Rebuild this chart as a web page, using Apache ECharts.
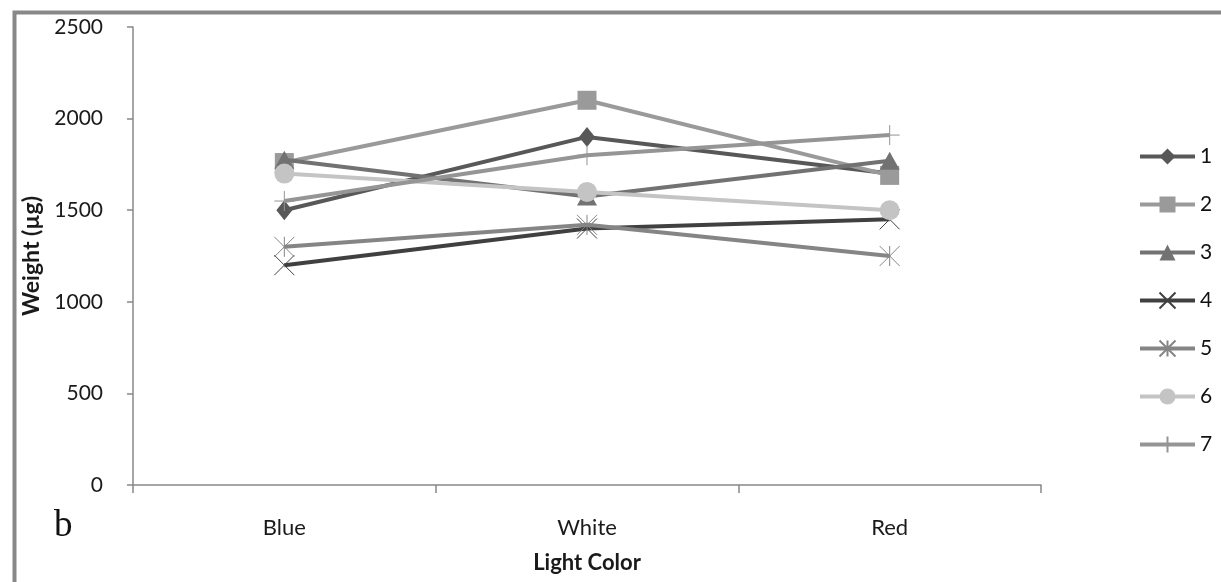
<!DOCTYPE html>
<html>
<head>
<meta charset="utf-8">
<script src="https://cdn.jsdelivr.net/npm/echarts@6/dist/echarts.min.js"></script>
<style>
html,body{margin:0;padding:0;background:#fff;}
#c{width:1221px;height:582px;}
</style>
</head>
<body>
<div id="c"></div>
<script>
var categories = ['Blue', 'White', 'Red'];
var seriesNames = ['1', '2', '3', '4', '5', '6', '7'];
var s1 = [1500, 1900, 1700];
var s2 = [1760, 2100, 1690];
var s3 = [1775, 1575, 1770];
var s4 = [1200, 1400, 1450];
var s5 = [1300, 1420, 1250];
var s6 = [1700, 1600, 1500];
var s7 = [1550, 1800, 1910];
var yTicks = [0, 500, 1000, 1500, 2000, 2500];

var values = [s1, s2, s3, s4, s5, s6, s7];
var colors = ['#585858', '#9a9a9a', '#727272', '#404040', '#858585', '#c4c4c4', '#959595'];
var symbols = [
  'diamond', 'rect', 'triangle',
  'path://M0,0L20,20M20,0L0,20',
  'path://M0,0L20,20M20,0L0,20M10,0L10,20',
  'circle',
  'path://M10,0L10,20M0,10L20,10'
];
var sizes = [[16, 20], 19, [20, 18], 20, 20, 20, 20];
var open = [false, false, false, true, true, false, true];

var series = values.map(function (v, i) {
  return {
    name: seriesNames[i],
    type: 'line',
    data: v,
    symbol: symbols[i],
    symbolSize: sizes[i],
    showAllSymbol: true,
    lineStyle: { color: colors[i], width: 4 },
    itemStyle: open[i]
      ? { color: 'rgba(0,0,0,0)', borderColor: colors[i], borderWidth: 1 }
      : { color: colors[i], borderWidth: 0 },
    emphasis: { disabled: true },
    animation: false,
    z: 2 + i
  };
});

var chart = echarts.init(document.getElementById('c'));
chart.setOption({
  backgroundColor: '#fff',
  animation: false,
  textStyle: { fontFamily: 'Lato' },
  grid: { left: 133, right: 180, top: 27, bottom: 97, containLabel: false },
  legend: {
    orient: 'vertical',
    left: 1133,
    top: 141,
    itemWidth: 55,
    itemHeight: 20,
    itemGap: 27,
    data: seriesNames,
    lineStyle: { width: 4 },
    textStyle: { fontSize: 21, lineHeight: 20, color: '#111', fontFamily: 'Lato' }
  },
  xAxis: {
    type: 'category',
    data: categories,
    boundaryGap: true,
    axisLine: { lineStyle: { color: '#888', width: 1.5 } },
    axisTick: { show: true, length: 8, lineStyle: { color: '#888', width: 1.5 } },
    axisLabel: { fontSize: 22, color: '#1a1a1a', margin: 32, fontFamily: 'Lato' },
    name: 'Light Color',
    nameLocation: 'middle',
    nameGap: 67,
    nameTextStyle: { fontSize: 22, fontWeight: 'bold', color: '#1a1a1a', fontFamily: 'Lato' },
    splitLine: { show: false }
  },
  yAxis: {
    type: 'value',
    min: yTicks[0],
    max: yTicks[yTicks.length - 1],
    interval: yTicks[1] - yTicks[0],
    axisLine: { show: true, lineStyle: { color: '#888', width: 1.5 } },
    axisTick: { show: true, length: 6, lineStyle: { color: '#888', width: 1.5 } },
    axisLabel: {
      fontSize: 21, color: '#1a1a1a', margin: 30, fontFamily: 'Lato',
      formatter: function (v) { return String(v); }
    },
    splitLine: { show: false },
    name: 'Weight (µg)',
    nameLocation: 'middle',
    nameGap: 89,
    nameRotate: 90,
    nameTextStyle: { fontSize: 23, fontWeight: 'bold', color: '#1a1a1a', fontFamily: 'Lato' }
  },
  graphic: [
    {
      type: 'rect',
      left: 12, top: 10,
      shape: { x: 0, y: 0, width: 1400, height: 800 },
      style: { fill: 'none', stroke: '#888', lineWidth: 4 },
      silent: true, z: 100
    },
    {
      type: 'text',
      left: 54, top: 508,
      style: { text: 'b', font: '37px "Liberation Serif"', fill: '#111' },
      silent: true
    }
  ],
  series: series
});
</script>
</body>
</html>
